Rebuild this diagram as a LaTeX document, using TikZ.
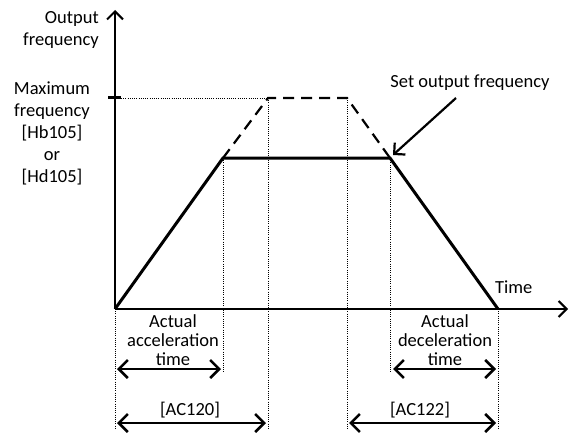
\documentclass[tikz,border=0pt]{standalone}
\usepackage{fontspec}
\setmainfont{Carlito}
\usetikzlibrary{arrows.meta}
\begin{document}
\begin{tikzpicture}[x=1pt,y=-1pt,
  font=\fontsize{18.5}{22}\selectfont,
  axisline/.style={line width=2pt},
  curve/.style={line width=3pt},
  dashcurve/.style={line width=2.2pt, dash pattern=on 11pt off 7pt},
  guide/.style={line width=0.8pt, dash pattern=on 1pt off 1.2pt},
  barb/.style={Straight Barb[length=9pt,width=18pt]},
  dimarrow/.style={line width=2.5pt, {Straight Barb[length=9pt,width=18pt]}-{Straight Barb[length=9pt,width=18pt]}},
  lbl/.style={inner sep=0pt, align=center}]
\useasboundingbox (0,0) rectangle (572,433);
% key points
\coordinate (O) at (115,309);
\coordinate (ytop) at (115,10);
\coordinate (xend) at (568,309);
\coordinate (A) at (223,158);
\coordinate (B) at (390,158);
\coordinate (C) at (498,309);
\coordinate (P) at (268,98);
\coordinate (Q) at (347,98);
\coordinate (tickL) at (108,98);
\coordinate (tickR) at (121,98);
% guides
\draw[guide] (tickR) -- (P);
\draw[guide] (O) -- (115,430);
\draw[guide] (A) -- (223,372);
\draw[guide] (P) -- (268,430);
\draw[guide] (Q) -- (347,430);
\draw[guide] (B) -- (390,372);
\draw[guide] (C) -- (498,430);
% axes
\draw[axisline, -{Straight Barb[length=8pt,width=16pt]}] (O) -- (ytop);
\draw[axisline, -{Straight Barb[length=8pt,width=16pt]}] (O) -- (xend);
\draw[line width=3pt] (tickL) -- (tickR);
% profile
\draw[curve, line join=miter] (O) -- (A) -- (B) -- (C);
\draw[dashcurve] (A) -- (P) -- (Q) -- (B);
% labels
\node[lbl, align=right, anchor=east] (yl) at (99,30) {Output\\frequency};
\node[lbl] (maxf) at (52,133) {Maximum\\frequency\\{[Hb105]}\\or\\{[Hd105]}};
\node[lbl] (setf) at (470,83) {Set output frequency};
\node[lbl, anchor=west] (time) at (495,287) {Time};
\node[lbl, font=\fontsize{18.5}{19}\selectfont] (acc) at (173,340) {Actual\\acceleration\\time};
\node[lbl, font=\fontsize{18.5}{19}\selectfont] (dec) at (445,340) {Actual\\deceleration\\time};
\node[lbl] (ac120) at (190,410) {{[AC120]}};
\node[lbl] (ac122) at (420,410) {{[AC122]}};
% pointer
\coordinate (ps) at (456,98);
\coordinate (pe) at (393,155);
\draw[line width=2.2pt, -{Straight Barb[length=8pt,width=16pt]}] (ps) -- (pe);
% dimension arrows
\coordinate (a1) at (117,369); \coordinate (a2) at (221,369);
\coordinate (d1) at (393,369); \coordinate (d2) at (496,369);
\coordinate (b1) at (117,423); \coordinate (b2) at (266,423);
\coordinate (c1) at (349,423); \coordinate (c2) at (496,423);
\draw[dimarrow] (a1) -- (a2);
\draw[dimarrow] (d1) -- (d2);
\draw[dimarrow] (b1) -- (b2);
\draw[dimarrow] (c1) -- (c2);
\end{tikzpicture}
\end{document}
